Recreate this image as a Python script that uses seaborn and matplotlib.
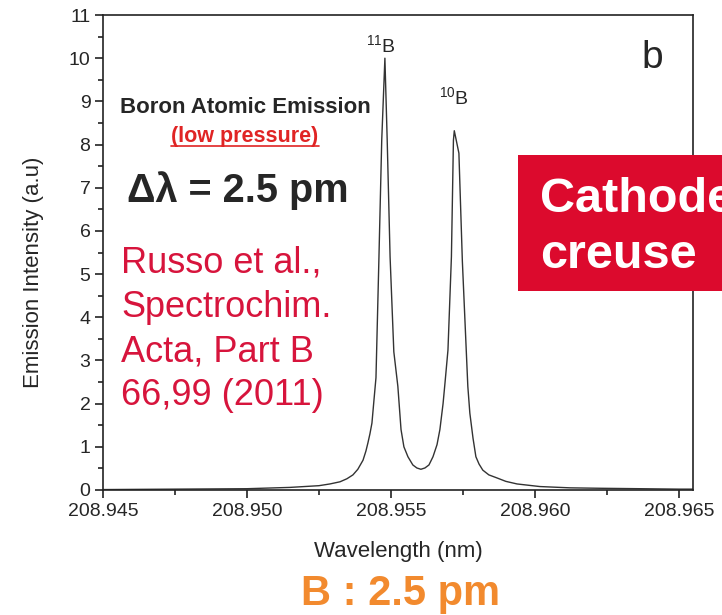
import seaborn as sns
import matplotlib.pyplot as plt
import pandas as pd
from matplotlib.ticker import MultipleLocator, AutoMinorLocator, FormatStrFormatter
from matplotlib.patches import Rectangle
from matplotlib.lines import Line2D

# spectrum (wavelength in nm, intensity in a.u.)
wavelength = [208.9450, 208.9475, 208.9500, 208.95149, 208.9525, 208.95288, 208.95323,
              208.95347, 208.95368, 208.95385, 208.95403, 208.95413, 208.95420, 208.95427,
              208.95434, 208.95441, 208.95448, 208.95458, 208.95468, 208.95479, 208.95487,
              208.95497, 208.95510, 208.95524, 208.95535, 208.95545, 208.95559, 208.95576,
              208.95590, 208.95604, 208.95618, 208.95632, 208.95646, 208.95660, 208.95670,
              208.95681, 208.95688, 208.95698, 208.95710, 208.95717, 208.95720, 208.95736,
              208.95748, 208.95767, 208.95774, 208.95785, 208.95795, 208.95806, 208.95819,
              208.95840, 208.95868, 208.95899, 208.95938, 208.96017, 208.96122, 208.96226,
              208.96365, 208.9650, 208.9655]
intensity = [0.01, 0.02, 0.03, 0.06, 0.10, 0.14, 0.19,
             0.26, 0.35, 0.48, 0.69, 0.90, 1.09, 1.30,
             1.55, 2.08, 2.60, 5.30, 8.10, 10.00, 8.10,
             5.40, 3.20, 2.40, 1.40, 1.00, 0.77, 0.58,
             0.51, 0.48, 0.51, 0.58, 0.77, 1.05, 1.40,
             2.00, 2.50, 3.24, 5.40, 8.10, 8.32, 7.80,
             5.30, 2.40, 1.78, 1.20, 0.77, 0.60, 0.46,
             0.35, 0.28, 0.20, 0.14, 0.08, 0.05, 0.04,
             0.03, 0.02, 0.02]
x_ticks = [208.945, 208.950, 208.955, 208.960, 208.965]
citation = ["Russo et al.,", "Spectrochim.", "Acta, Part B", "66,99 (2011)"]

df = pd.DataFrame({"wavelength": wavelength, "intensity": intensity})

sns.set_style("ticks")
plt.rcParams['font.family'] = ['Liberation Sans', 'DejaVu Sans']
plt.rcParams['mathtext.fontset'] = 'custom'
plt.rcParams['mathtext.rm'] = 'Liberation Sans'

W, H = 722, 615
fig = plt.figure(figsize=(W / 100, H / 100), dpi=100)
ax = fig.add_axes([103 / W, 1 - 490 / H, 590 / W, 475 / H])

sns.lineplot(data=df, x="wavelength", y="intensity", ax=ax, color="#333333",
             linewidth=1.0, sort=False)

ax.set_xlim(208.945, 208.96549)
ax.set_ylim(0, 11)
ax.set_xticks(x_ticks)
ax.xaxis.set_major_formatter(FormatStrFormatter('%.3f'))
ax.xaxis.set_minor_locator(AutoMinorLocator(2))
ax.yaxis.set_major_locator(MultipleLocator(1))
ax.yaxis.set_minor_locator(AutoMinorLocator(2))
ax.tick_params(which='major', direction='out', length=6, width=1.2, labelsize=14,
               color='#222222', pad=3)
ax.tick_params(which='minor', direction='out', length=3.5, width=1.2, color='#222222')
for s in ax.spines.values():
    s.set_linewidth(1.2)
    s.set_color('#222222')

ax.set_xlabel("Wavelength (nm)", fontsize=16)
ax.xaxis.label.set_va('baseline')
ax.xaxis.set_label_coords(0.5, (490 - 557) / 475)
ax.set_ylabel("Emission Intensity (a.u)", fontsize=16)
ax.yaxis.set_label_coords((44 - 103) / 590, (490 - 272) / 475)

# isotope labels above the two peaks
i11 = intensity.index(max(intensity))
ax.text(wavelength[i11] - 0.00012, intensity[i11] + 0.12, "$^{11}$B", fontsize=14,
        ha='center', va='baseline')
i10 = intensity.index(max(intensity[i11 + 5:]))
ax.text(wavelength[i10], intensity[i10] + 0.6, "$^{10}$B", fontsize=14,
        ha='center', va='baseline')

def fx(px):
    return px / W

def fy(py):
    return 1 - py / H

fig.text(fx(652), fy(68), "b", fontsize=28, ha='center', va='baseline')
fig.text(fx(245), fy(113), "Boron Atomic Emission", fontsize=16, fontweight='bold',
         ha='center', va='baseline')
lp = fig.text(fx(245), fy(142), "(low pressure)", fontsize=15.5, fontweight='bold',
              color='#E02424', ha='center', va='baseline')
fig.text(fx(127), fy(202), "\u0394\u03bb = 2.5 pm", fontsize=28.5, fontweight='bold',
         ha='left', va='baseline')

for k, line in enumerate(citation):
    fig.text(fx(121), fy(273 + 44 * k), line, fontsize=26, color='#D7143C',
             ha='left', va='baseline')

fig.add_artist(Rectangle((fx(518), fy(291)), 1.02 - fx(518), (291 - 155) / H,
                         transform=fig.transFigure, facecolor='#DC0A2D',
                         edgecolor='none', zorder=5))
fig.text(fx(540), fy(212), "Cathode", fontsize=35, fontweight='bold', color='white',
         ha='left', va='baseline', zorder=6)
fig.text(fx(540), fy(268), "creuse", fontsize=35, fontweight='bold', color='white',
         ha='left', va='baseline', zorder=6)

fig.text(fx(401), fy(605), "B : 2.5 pm", fontsize=30, fontweight='bold',
         color='#F28A2E', ha='center', va='baseline')

# underline for "(low pressure)"
fig.canvas.draw()
bb = lp.get_window_extent().transformed(fig.transFigure.inverted())
fig.add_artist(Line2D([bb.x0, bb.x1], [fy(146), fy(146)], transform=fig.transFigure,
                      color='#E02424', linewidth=1.2))

fig.savefig("out.png", dpi=100)
